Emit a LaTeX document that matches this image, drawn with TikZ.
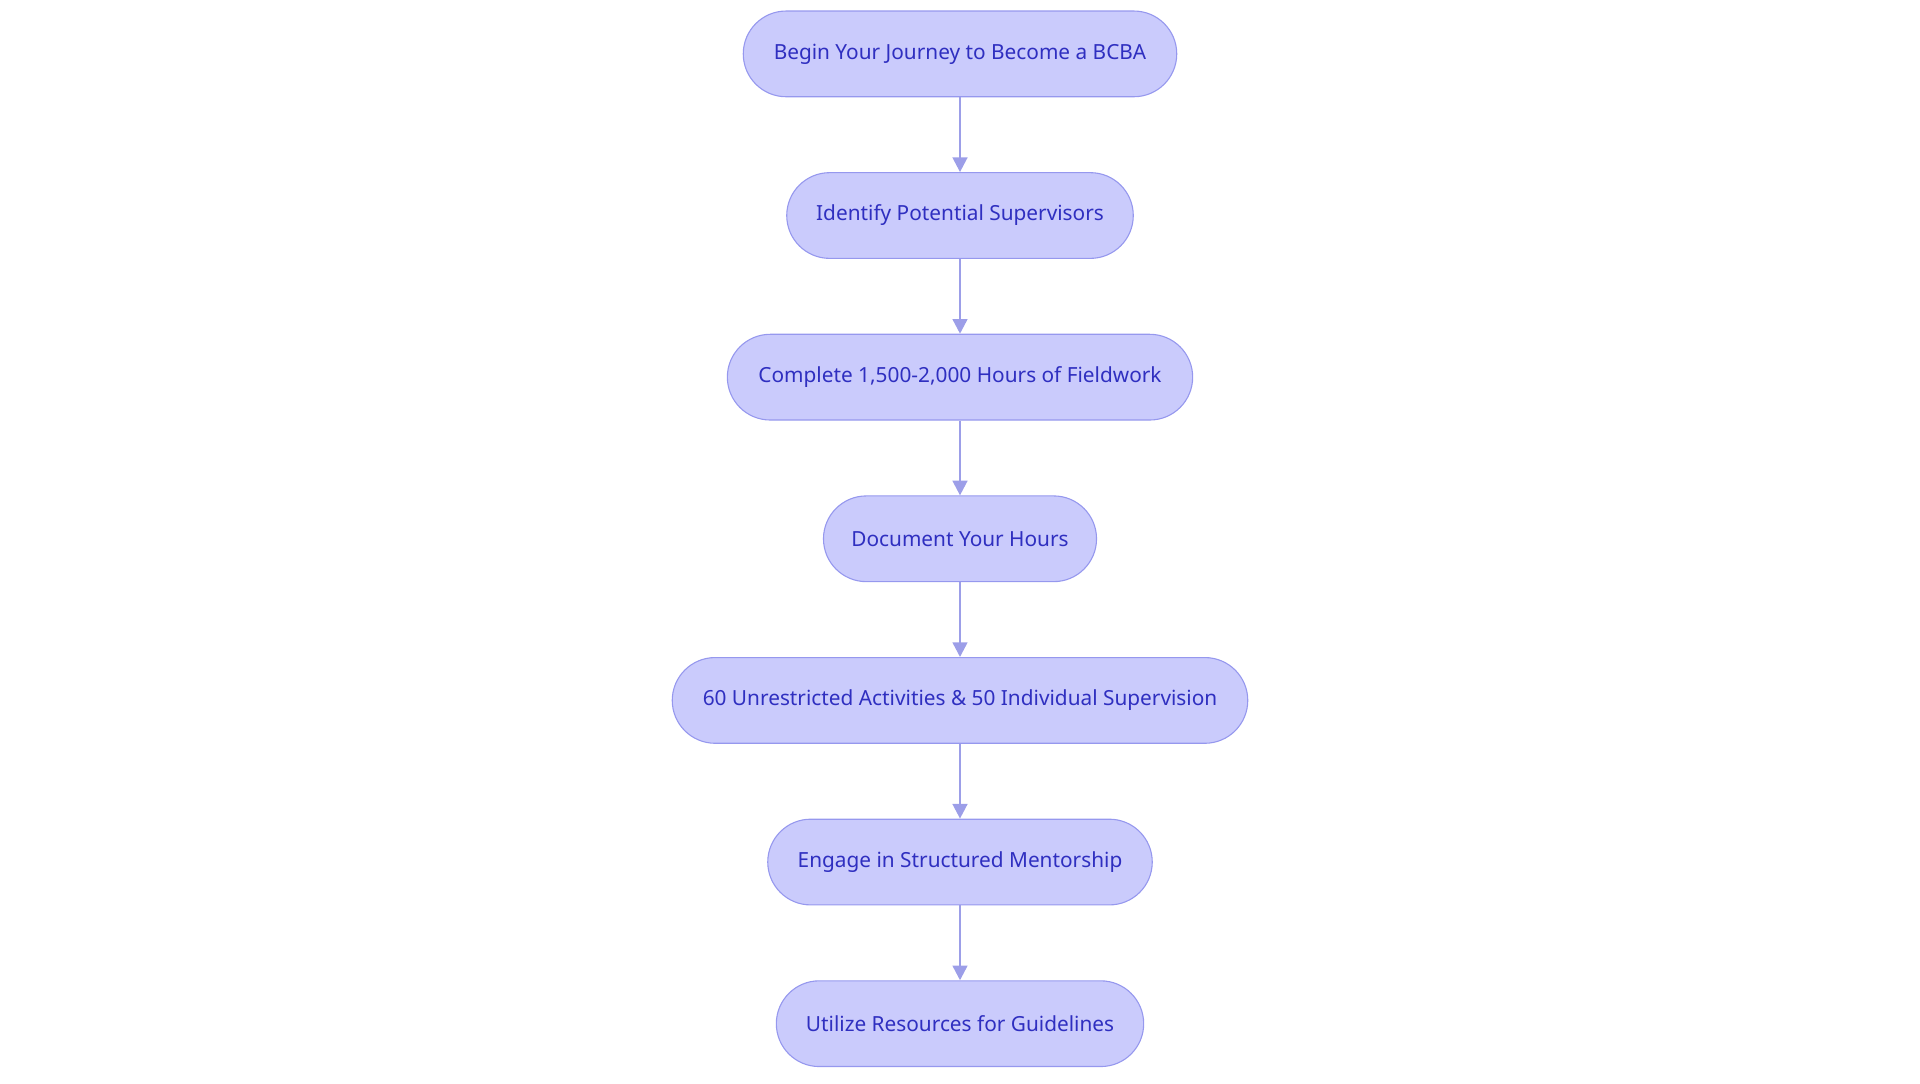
\documentclass[tikz,border=0pt]{standalone}
\usepackage{fontspec}
\setmainfont{Noto Sans}
\usetikzlibrary{arrows.meta}
\definecolor{nfill}{HTML}{CACBFC}
\definecolor{ndraw}{HTML}{9698EE}
\definecolor{ntext}{HTML}{2F2FC0}
\definecolor{arr}{HTML}{9C9EE8}
\begin{document}
\begin{tikzpicture}[x=1pt,y=-1pt,
  box/.style={draw=ndraw,fill=nfill,text=ntext,rounded corners=35pt,minimum height=70pt,line width=0.9pt,font=\fontsize{17}{20}\selectfont,inner sep=0pt},
  con/.style={draw=arr,line width=2pt,-{Triangle[length=12pt,width=12pt]}}]
\useasboundingbox (0,0) rectangle (1568,884.5);
\node[box,minimum width=354pt] (n1) at (784,44) {Begin Your Journey to Become a BCBA};
\node[box,minimum width=283pt] (n2) at (784,176) {Identify Potential Supervisors};
\node[box,minimum width=380pt] (n3) at (784,308) {Complete 1,500-2,000 Hours of Fieldwork};
\node[box,minimum width=223pt] (n4) at (784,440) {Document Your Hours};
\node[box,minimum width=470pt] (n5) at (784,572) {60 Unrestricted Activities \& 50 Individual Supervision};
\node[box,minimum width=314pt] (n6) at (784,704) {Engage in Structured Mentorship};
\node[box,minimum width=300pt] (n7) at (784,836) {Utilize Resources for Guidelines};
\foreach \a/\b in {n1/n2,n2/n3,n3/n4,n4/n5,n5/n6,n6/n7}
  \draw[con] (\a) -- (\b);
\end{tikzpicture}
\end{document}
